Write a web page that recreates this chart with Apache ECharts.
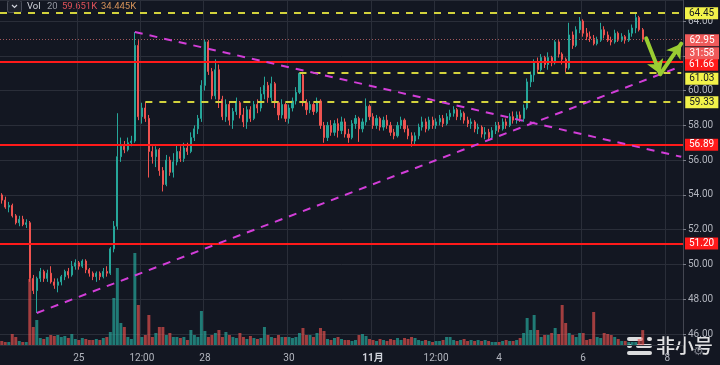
<!DOCTYPE html>
<html><head><meta charset="utf-8">
<script src="https://cdn.jsdelivr.net/npm/echarts@6/dist/echarts.min.js"></script>
<style>html,body{margin:0;padding:0;background:#131722;}#c{width:720px;height:365px;}</style>
</head><body><div id="c"></div>
<script>
// ---- DATA ----
// 2h candles [open, close, low, high], first candle 2019-10-23 04:00
const candles = [
[54.0,53.7,53.5,54.1],[53.7,53.3,53.2,53.9],[53.3,53.4,53.0,53.6],[53.4,52.8,52.7,53.5],[52.8,52.4,52.3,52.9],
[52.4,52.6,52.2,52.8],[52.6,52.3,52.2,52.8],[52.3,52.4,52.1,52.6],[52.4,49.2,49.0,52.5],[49.2,48.5,48.3,49.4],
[48.5,49.2,47.21,49.3],[49.2,49.6,49.0,49.8],[49.6,49.2,49.0,49.7],[49.2,49.5,49.0,49.7],[49.5,49.0,48.9,49.9],
[49.0,48.8,48.6,49.2],[48.8,49.0,48.4,49.2],[49.0,49.3,48.8,49.4],[49.3,49.6,49.1,49.7],[49.6,49.4,49.2,49.8],
[49.4,49.9,49.3,50.2],[49.9,50.1,49.7,50.3],[50.1,49.9,49.7,50.2],[49.9,50.2,49.8,50.3],[50.2,49.7,49.5,50.3],
[49.7,49.5,49.3,49.8],[49.5,49.3,49.1,49.6],[49.3,49.5,49.0,49.6],[49.5,49.3,49.1,49.6],[49.3,49.6,49.2,49.8],
[49.6,49.5,49.3,49.9],[49.5,50.9,49.4,51.0],[50.9,52.2,50.7,52.5],[52.2,56.2,52.0,58.7],[56.2,56.8,55.9,57.3],
[56.8,56.6,56.4,57.1],[56.6,57.0,56.5,57.3],[57.0,57.1,56.8,57.4],[57.1,62.6,57.0,63.37],[62.6,58.5,58.3,62.9],
[58.5,59.0,58.1,59.3],[59.0,58.4,58.2,59.33],[58.4,56.5,55.0,58.6],[56.5,56.2,55.8,56.8],[56.2,56.6,55.6,56.8],
[56.6,55.4,55.1,56.7],[55.4,54.6,54.2,55.6],[54.6,56.0,54.5,56.3],[56.0,55.3,55.1,56.2],[55.3,55.9,55.0,56.4],
[55.9,56.5,55.7,56.9],[56.5,56.1,55.9,56.8],[56.1,56.7,55.9,57.0],[56.7,56.5,56.3,57.0],[56.5,57.3,56.4,57.6],
[57.3,57.8,57.1,58.0],[57.8,58.4,57.5,58.6],[58.4,60.3,58.2,60.6],[60.3,62.8,60.0,62.95],[62.8,61.1,60.9,62.9],
[61.1,59.7,59.5,61.3],[59.7,61.2,59.5,61.8],[61.2,59.5,59.0,61.5],[59.5,58.5,58.3,59.7],[58.5,59.2,58.2,59.5],
[59.2,58.3,58.0,59.4],[58.3,58.8,57.8,59.0],[58.8,59.3,58.6,59.6],[59.3,58.6,58.4,59.4],[58.6,58.2,57.9,59.0],
[58.2,58.9,57.8,59.1],[58.9,58.4,58.2,59.1],[58.4,59.2,58.3,59.4],[59.2,59.0,58.7,59.5],[59.0,59.8,58.8,60.2],
[59.8,60.3,59.5,60.8],[60.3,59.6,59.3,60.5],[59.6,60.4,59.4,60.8],[60.4,59.3,59.0,60.5],[59.3,58.6,58.3,59.4],
[58.6,59.2,58.4,59.5],[59.2,58.4,58.2,59.3],[58.4,59.0,58.1,59.2],[59.0,59.4,58.8,59.6],[59.4,59.9,59.2,60.2],
[59.9,61.0,59.8,61.03],[60.9,59.3,59.1,61.0],[59.3,58.9,58.6,59.5],[58.9,59.2,58.7,59.4],[59.2,58.8,58.6,59.3],
[58.8,59.4,58.7,59.6],[59.4,58.0,57.8,59.5],[58.0,57.3,57.0,58.2],[57.3,58.0,57.1,58.2],[58.0,57.6,57.4,58.3],
[57.6,58.1,57.4,58.3],[58.1,57.7,57.3,58.4],[57.7,58.2,57.5,58.5],[58.2,57.5,57.3,58.4],[57.5,57.3,57.0,57.8],
[57.3,58.1,57.2,58.3],[58.1,58.4,57.8,58.6],[58.4,57.8,57.05,58.5],[57.8,58.2,57.6,58.4],[58.2,59.1,58.0,59.55],
[59.1,58.5,58.3,59.2],[58.5,58.0,57.8,58.7],[58.0,58.4,57.8,58.6],[58.4,57.9,57.7,58.5],[57.9,58.3,57.7,58.5],
[58.3,58.0,57.8,58.6],[58.0,57.6,57.4,58.2],[57.6,57.4,57.2,57.8],[57.4,58.0,57.3,58.2],[58.0,58.3,57.8,58.5],
[58.3,57.8,57.6,58.4],[57.8,57.4,57.2,58.0],[57.4,57.1,56.78,57.6],[57.1,57.4,56.9,57.6],[57.4,57.9,57.2,58.1],
[57.9,58.2,57.7,58.5],[58.2,57.8,57.6,58.4],[57.8,58.3,57.7,58.5],[58.3,58.0,57.8,58.5],[58.0,58.2,57.8,58.4],
[58.2,58.4,58.0,58.6],[58.4,58.1,57.9,58.6],[58.1,58.5,58.0,58.7],[58.5,58.7,58.3,58.9],[58.7,58.9,58.5,59.1],
[58.9,58.5,58.3,59.0],[58.5,58.7,58.3,58.9],[58.7,58.3,58.1,58.8],[58.3,58.1,57.9,58.5],[58.1,58.2,57.8,58.4],
[58.2,57.8,57.6,58.3],[57.8,57.9,57.5,58.1],[57.9,57.5,57.3,58.0],[57.5,57.6,57.2,57.9],[57.6,57.3,57.2,57.8],
[57.3,57.7,57.2,57.9],[57.7,58.0,57.5,58.2],[58.0,57.8,57.6,58.2],[57.8,58.2,57.7,58.4],[58.2,58.0,57.8,58.4],
[58.0,58.5,57.9,58.7],[58.5,58.3,58.1,58.8],[58.3,58.6,58.1,58.8],[58.6,58.4,58.2,58.8],[58.4,59.0,58.2,59.2],
[59.0,60.5,58.9,60.7],[60.5,60.9,60.2,61.1],[60.9,61.6,60.5,61.8],[61.6,61.2,61.0,61.9],[61.2,61.9,61.1,62.1],
[61.9,61.5,61.3,62.0],[61.5,61.9,61.2,62.2],[61.9,61.6,61.4,62.0],[61.6,62.8,61.5,62.9],[62.8,62.1,61.9,62.9],
[62.1,61.8,61.5,62.2],[61.8,61.3,61.05,61.9],[61.3,63.2,61.2,63.9],[63.2,62.6,62.4,63.4],[62.6,63.5,62.5,63.7],
[63.5,64.0,63.3,64.23],[64.0,63.3,63.1,64.1],[63.3,63.1,62.9,63.6],[63.1,63.0,62.8,63.4],[63.0,62.7,62.6,63.2],
[62.7,62.9,62.6,63.1],[62.9,63.5,62.8,63.9],[63.5,63.2,63.0,63.7],[63.2,62.9,62.8,63.4],[62.9,62.8,62.6,63.1],
[62.8,63.3,62.7,63.5],[63.3,62.9,62.8,63.4],[62.9,63.1,62.8,63.3],[63.1,62.9,62.7,63.2],[62.9,63.3,62.8,63.5],
[63.3,63.6,63.1,63.8],[63.6,64.2,63.3,64.45],[64.2,63.5,63.4,64.3],[63.5,62.95,62.8,63.6]
];
// volume per candle, in thousands
const volumes = [
16,12,12,44,32,16,12,12,264,72,
100,28,24,32,40,36,40,32,36,28,
44,24,20,28,24,20,20,24,20,28,
32,52,188,308,88,72,32,24,368,160,
32,40,120,32,48,72,72,40,48,32,
32,28,32,20,60,40,32,136,56,32,
40,48,60,32,52,40,32,28,48,32,
24,36,28,24,28,72,40,32,28,40,
32,32,32,28,32,48,68,40,40,32,
48,68,56,24,20,28,32,24,20,20,
16,20,40,44,36,24,20,16,24,20,
16,24,20,28,20,28,24,32,28,20,
16,20,16,12,16,16,20,32,32,20,
16,20,24,16,20,16,20,16,20,16,
12,12,12,16,20,16,16,20,28,48,
108,60,120,60,32,40,40,48,68,44,
160,88,48,40,32,48,48,20,24,132,
32,28,48,44,40,32,24,16,16,12,
12,12,24,59.651
];
const startUTC = [2019, 9, 23, 4];      // first candle time
const slotCount = 195;                   // time slots shown (incl. empty right margin)
const tickTimes = ['10-25 00:00','10-26 12:00','10-28 00:00','10-30 00:00','11-01 00:00','11-02 12:00','11-04 00:00','11-06 00:00','11-08 00:00'];
const tickTexts = ['25','12:00','28','30','11月','12:00','4','6','8'];
const priceRange = [45.37, 65.21];
const redLevels = [61.66, 56.89, 51.20];
const yellowLevels = [64.45, 61.03, 59.33];
const yellowStarts = [null, '10-30 06:00', '10-26 14:00'];
const currentPrice = 62.95;
const countdown = '31:58';
const trendUp = [['10-24 00:00', 47.21], ['11-08 08:00', 61.40]];
const trendDown = [['10-26 08:00', 63.37], ['11-08 08:00', 56.19]];
const arrowPts = [['11-07 12:00', 63.0], ['11-07 20:00', 60.95], ['11-08 08:00', 62.7]];
const legendVol = ['Vol', '20', '59.651K', '34.445K'];

// ---- CHART ----
const FONT = 'Roboto, "Noto Sans", "Noto Sans CJK SC", sans-serif';
const UP = '#26a69a', DOWN = '#ef5350';
const RED = '#ff1a1a', YEL = '#d2d23c', YELBOX = '#f2f24a', MAG = '#d23ed8', GRN = '#9acd32';
const GRID = '#2a2e39', TXT = '#b2b5be';
const FS = 10;

function slot(i) {
  const d = new Date(Date.UTC(startUTC[0], startUTC[1], startUTC[2], startUTC[3]) + i * 7200000);
  const p = n => String(n).padStart(2, '0');
  return p(d.getUTCMonth() + 1) + '-' + p(d.getUTCDate()) + ' ' + p(d.getUTCHours()) + ':00';
}
const categories = Array.from({length: slotCount}, (_, i) => slot(i));
const lastCat = categories[categories.length - 1];

// label box; shift moves the box down (px) when labels would collide
function boxLabel(text, bg, fg, dist, shift) {
  const box = {backgroundColor: bg, color: fg, fontSize: FS, fontFamily: FONT, lineHeight: 11, padding: [1, 4, 1, 4]};
  return {show: true, position: 'end', distance: dist,
    formatter: (shift ? '{s| }\n' : '') + '{a|' + text + '}',
    rich: {s: {fontSize: 1, lineHeight: shift * 2, height: shift * 2}, a: box}};
}
const labelShift = {'61.66': 3, '61.03': 6};

const ml = [];
redLevels.forEach(v => ml.push({yAxis: v, lineStyle: {color: RED, width: 2, type: 'solid'},
  label: boxLabel(v.toFixed(2), RED, '#ffffff', 2, labelShift[v.toFixed(2)] || 0)}));
yellowLevels.forEach((v, k) => {
  const st = {color: YEL, width: 2, type: [7, 7]};
  const sh = labelShift[v.toFixed(2)] || 0;
  if (yellowStarts[k] === null) {
    ml.push({yAxis: v, lineStyle: st, label: boxLabel(v.toFixed(2), YELBOX, '#131722', 2, sh)});
  } else {
    ml.push([{coord: [yellowStarts[k], v], lineStyle: st, label: boxLabel(v.toFixed(2), YELBOX, '#131722', 4, sh)},
             {coord: [lastCat, v]}]);
  }
});
const cpBox = {backgroundColor: '#ef5a5a', color: '#fff', fontSize: FS, fontFamily: FONT, lineHeight: 11, padding: [1, 4, 1, 4], width: 26, align: 'center'};
ml.push({yAxis: currentPrice, lineStyle: {color: '#a0585c', width: 1, type: [1, 2]},
  label: {show: true, position: 'end', distance: 2,
    formatter: '{s| }\n{a|' + currentPrice.toFixed(2) + '}\n{g| }\n{b|' + countdown + '}',
    rich: {s: {fontSize: 1, lineHeight: 15, height: 15}, g: {fontSize: 1, lineHeight: 2, height: 2}, a: cpBox, b: cpBox}}});
[trendUp, trendDown].forEach(t => ml.push([
  {coord: t[0], lineStyle: {color: MAG, width: 2, type: [8, 7]}, label: {show: false}},
  {coord: t[1]}]));
for (let k = 0; k < arrowPts.length - 1; k++) {
  ml.push([
    {coord: arrowPts[k], symbol: 'none', lineStyle: {color: GRN, width: 4, type: 'solid', cap: 'round'}, label: {show: false}},
    {coord: arrowPts[k + 1], symbol: 'arrow', symbolSize: [13, 14]}]);
}

const volData = volumes.map((v, i) => ({value: v,
  itemStyle: {color: candles[i][1] >= candles[i][0] ? 'rgba(38,166,154,0.7)' : 'rgba(239,83,80,0.65)'}}));

const isTick = (idx, val) => tickTimes.indexOf(val) >= 0;

const option = {
  animation: false,
  backgroundColor: '#131722',
  textStyle: {fontFamily: FONT},
  grid: [
    {left: 0, right: 37, top: 0, height: 345},
    {left: 0, right: 37, top: 0, height: 345}
  ],
  xAxis: [
    {type: 'category', gridIndex: 0, data: categories, boundaryGap: true, show: false},
    {type: 'category', gridIndex: 1, data: categories, boundaryGap: true,
      axisLine: {show: false}, axisTick: {show: false},
      axisLabel: {interval: isTick, color: TXT, fontSize: FS, margin: 8, fontFamily: FONT,
        formatter: v => { const k = tickTimes.indexOf(v); if (k < 0) return '';
          return tickTexts[k] === '11月' ? '{b|11月}' : tickTexts[k]; },
        rich: {b: {fontWeight: 'bold', color: '#d1d4dc', fontSize: FS, fontFamily: FONT}}},
      splitLine: {show: true, interval: isTick, lineStyle: {color: GRID, width: 1}}}
  ],
  yAxis: [
    {type: 'value', gridIndex: 0, position: 'right', min: priceRange[0], max: priceRange[1],
      splitNumber: 10, minInterval: 2, maxInterval: 2,
      axisLine: {show: true, lineStyle: {color: '#434651'}},
      axisTick: {show: true, length: 3, lineStyle: {color: '#787b86'}},
      axisLabel: {color: TXT, fontSize: FS, margin: 5, fontFamily: FONT, showMinLabel: false, showMaxLabel: false,
        formatter: v => v.toFixed(2)},
      splitLine: {show: true, lineStyle: {color: GRID, width: 1}}},
    {type: 'value', gridIndex: 1, min: 0, max: 1380, show: false, splitLine: {show: false}}
  ],
  series: [
    {type: 'bar', name: 'Vol', xAxisIndex: 1, yAxisIndex: 1, data: volData, barWidth: '85%', z: 1, silent: true},
    {type: 'candlestick', name: 'Price', xAxisIndex: 0, yAxisIndex: 0, data: candles, barWidth: 1.6, z: 3,
      itemStyle: {color: UP, color0: DOWN, borderColor: UP, borderColor0: DOWN, borderWidth: 1},
      markLine: {silent: true, symbol: ['none', 'none'], precision: 2, animation: false, data: ml}}
  ],
  graphic: [
    {type: 'rect', shape: {x: 7.5, y: 0.5, width: 14, height: 12, r: 2}, style: {fill: '#1e222d', stroke: '#4a4e5a', lineWidth: 1}},
    {type: 'polyline', shape: {points: [[12, 5], [14.5, 7.5], [17, 5]]}, style: {stroke: '#d1d4dc', lineWidth: 1.2, fill: null}},
    {type: 'text', x: 27, y: 7, style: {text: legendVol[0], fill: '#d1d4dc', font: '9.5px ' + FONT, verticalAlign: 'middle'}},
    {type: 'text', x: 47, y: 7, style: {text: legendVol[1], fill: '#9598a1', font: '9.5px ' + FONT, verticalAlign: 'middle'}},
    {type: 'text', x: 62, y: 7, style: {text: legendVol[2], fill: '#e0525a', font: '9.5px ' + FONT, verticalAlign: 'middle'}},
    {type: 'text', x: 101, y: 7, style: {text: legendVol[3], fill: '#d4925a', font: '9.5px ' + FONT, verticalAlign: 'middle'}},
    {type: 'rect', shape: {x: 627, y: 337, width: 16, height: 4, r: 2}, style: {fill: 'rgba(255,255,255,0.85)'}},
    {type: 'rect', shape: {x: 647, y: 337, width: 5, height: 4, r: 2}, style: {fill: 'rgba(255,255,255,0.85)'}},
    {type: 'rect', shape: {x: 627, y: 344, width: 5, height: 4, r: 2}, style: {fill: 'rgba(255,255,255,0.85)'}},
    {type: 'rect', shape: {x: 636, y: 344, width: 16, height: 4, r: 2}, style: {fill: 'rgba(255,255,255,0.85)'}},
    {type: 'rect', shape: {x: 627, y: 351, width: 25, height: 4, r: 2}, style: {fill: 'rgba(255,255,255,0.85)'}},
    {type: 'text', x: 656, y: 346, style: {text: '非小号', fill: 'rgba(255,255,255,0.88)', font: '500 19px "Noto Sans CJK SC", sans-serif', verticalAlign: 'middle'}},
    {type: 'text', x: 693, y: 352, style: {text: '⚙', fill: '#787b86', font: '12px "DejaVu Sans", sans-serif', verticalAlign: 'middle'}}
  ]
};
const chart = echarts.init(document.getElementById('c'));
chart.setOption(option);
</script>
</body></html>
